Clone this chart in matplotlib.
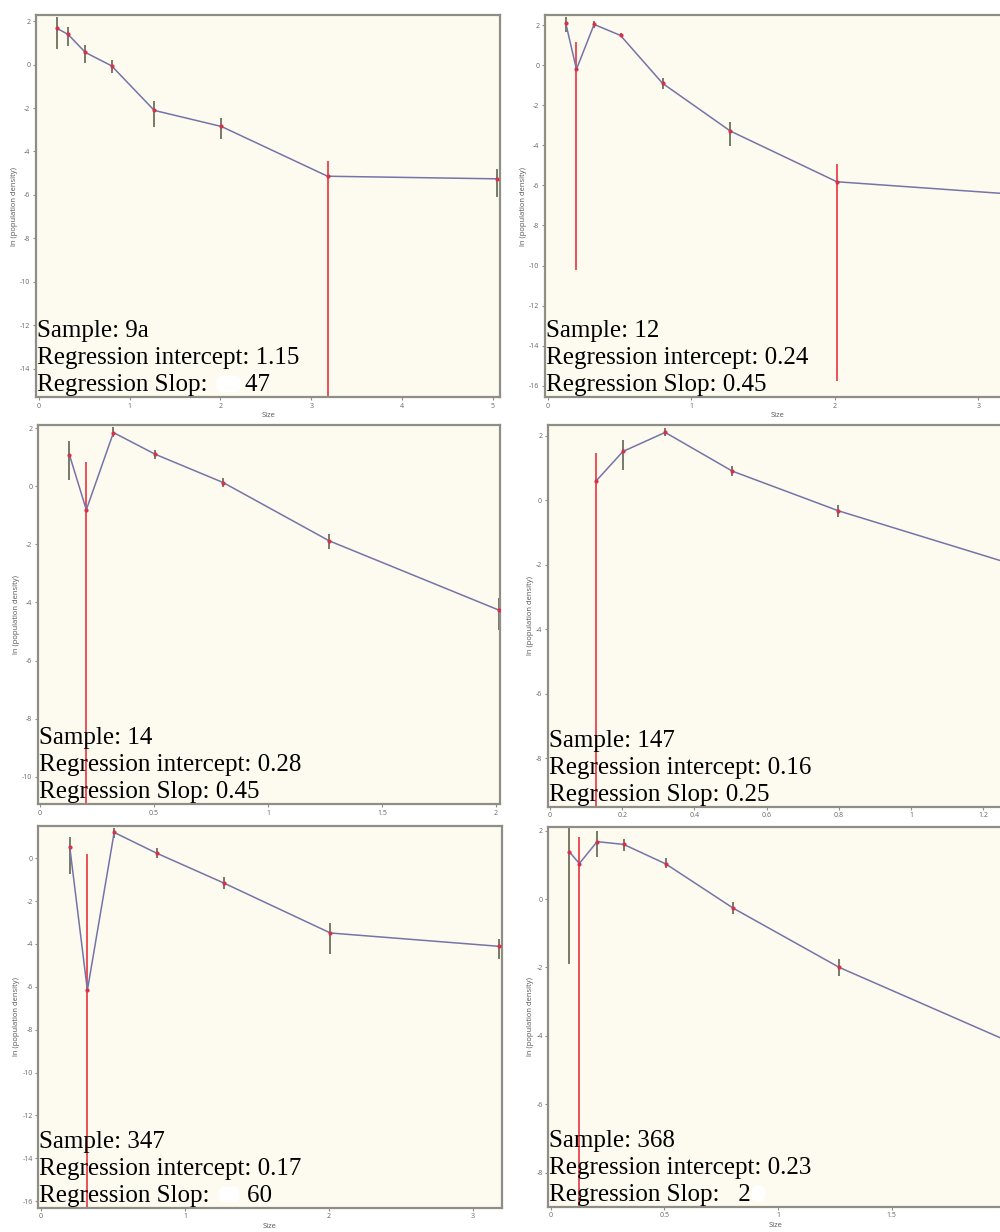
import matplotlib
matplotlib.use("Agg")
import matplotlib.pyplot as plt
from matplotlib.patches import Rectangle, FancyBboxPatch
from matplotlib.ticker import MultipleLocator, FuncFormatter
from matplotlib.textpath import TextPath
from matplotlib.font_manager import FontProperties

plt.rcParams['axes.unicode_minus'] = False

# ln(population density) by size class, with confidence bars
s9a_x = [0.2, 0.32, 0.51, 0.8, 1.27, 2.01, 3.18, 5.05]
s9a_y = [1.66, 1.39, 0.56, -0.06, -2.11, -2.85, -5.14, -5.26]
s9a_lo = [0.72, 0.85, 0.09, -0.37, -2.86, -3.43, -16.0, -6.09]
s9a_hi = [2.17, 1.74, 0.9, 0.21, -1.67, -2.46, -4.42, -4.83]

s12_x = [0.126, 0.2, 0.323, 0.507, 0.8, 1.272, 2.014, 3.18]
s12_y = [2.08, -0.21, 2.03, 1.48, -0.91, -3.29, -5.82, -6.41]
s12_lo = [1.67, -10.23, 1.87, 1.38, -1.19, -4.04, -15.75, -6.8]
s12_hi = [2.42, 1.13, 2.2, 1.58, -0.66, -2.84, -4.94, -6.0]

s14_x = [0.129, 0.203, 0.322, 0.506, 0.803, 1.269, 2.012]
s14_y = [1.08, -0.81, 1.85, 1.1, 0.13, -1.88, -4.26]
s14_lo = [0.2, -12.0, 1.69, 0.93, -0.03, -2.17, -4.95]
s14_hi = [1.56, 0.85, 2.03, 1.25, 0.28, -1.65, -3.83]

s147_x = [0.128, 0.202, 0.319, 0.505, 0.799, 1.27]
s147_y = [0.6, 1.51, 2.1, 0.9, -0.33, -1.95]
s147_lo = [-10.0, 0.93, 1.98, 0.74, -0.52, -2.2]
s147_hi = [1.45, 1.86, 2.25, 1.05, -0.15, -1.7]

s347_x = [0.2, 0.322, 0.508, 0.804, 1.27, 2.01, 3.18]
s347_y = [0.5, -6.16, 1.2, 0.23, -1.16, -3.49, -4.11]
s347_lo = [-0.75, -17.0, 0.96, 0.03, -1.43, -4.47, -4.69]
s347_hi = [1.0, 0.19, 1.43, 0.47, -0.89, -3.03, -3.76]

s368_x = [0.081, 0.126, 0.204, 0.321, 0.506, 0.804, 1.27, 2.02]
s368_y = [1.39, 1.04, 1.68, 1.6, 1.03, -0.27, -2.0, -4.18]
s368_lo = [-1.9, -10.0, 1.24, 1.4, 0.9, -0.45, -2.24, -4.45]
s368_hi = [2.3, 1.82, 1.99, 1.76, 1.19, -0.08, -1.76, -3.9]

sample_names = ['9a', '12', '14', '147', '347', '368']
intercepts = ['1.15', '0.24', '0.28', '0.16', '0.17', '0.23']
slopes = ['     47', '0.45', '0.45', '0.25', '     60', '  2']

series = [
    (s9a_x, s9a_y, s9a_lo, s9a_hi),
    (s12_x, s12_y, s12_lo, s12_hi),
    (s14_x, s14_y, s14_lo, s14_hi),
    (s147_x, s147_y, s147_lo, s147_hi),
    (s347_x, s347_y, s347_lo, s347_hi),
    (s368_x, s368_y, s368_lo, s368_hi),
]

# panel boxes in pixels (left, top, right, bottom), axis limits and tick steps
W, H = 1000, 1232
boxes = [(36, 15, 500, 397), (545, 15, 1010, 397),
         (38, 425, 500, 804), (547.7, 425, 1010, 806.7),
         (38.3, 826, 501.7, 1207.7), (548.3, 827.3, 1003, 1206.7)]
xlims = [(-0.033, 5.08), (-0.019, 3.22), (-0.009, 2.018),
         (-0.0064, 1.274), (-0.019, 3.2), (-0.0106, 1.99)]
ylims = [(-15.3, 2.28), (-16.56, 2.5), (-10.94, 2.11),
         (-9.5, 2.33), (-16.3, 1.5), (-9.0, 2.1)]
xsteps = [1, 1, 0.5, 0.2, 1, 0.5]
# white erasures on the slope line: (gap after colon, width) in pixels
erased = {0: (11, 25), 4: (11, 21), 5: (34, 14)}

BG = '#fdfbef'
SPINE = '#8e8e86'
LINE = '#7474a8'
DOT = '#d8304a'
BAR_OK = '#6b705c'
BAR_WIDE = '#e8434a'
FS = 18

fig = plt.figure(figsize=(W / 100, H / 100), dpi=100)

# white backing for the lower rows so they sit over the row above
for z, top in [(1.5, 420), (2.5, 819)]:
    fig.add_artist(Rectangle((0, 0), 1, 1 - top / H, transform=fig.transFigure,
                             facecolor='white', edgecolor='none', zorder=z))

fmt = FuncFormatter(lambda v, p: f'{v:g}')
serif = FontProperties(family='Liberation Serif', size=FS)
colon_w = TextPath((0, 0), 'Regression Slop:', prop=serif).get_extents().x1 * 100 / 72

for i, (xs, ys, lo, hi) in enumerate(series):
    l, t, r, b = boxes[i]
    ax = fig.add_axes([l / W, 1 - b / H, (r - l) / W, (b - t) / H])
    ax.set_zorder(1 + i // 2)
    ax.set_facecolor(BG)
    for sp in ax.spines.values():
        sp.set_color(SPINE)
        sp.set_linewidth(1.6)

    # wide (open-ended) intervals are drawn in red
    cols = [BAR_WIDE if (y - a) > 5 else BAR_OK for y, a in zip(ys, lo)]
    ax.vlines(xs, lo, hi, colors=cols, lw=1.3, zorder=2)
    ax.plot(xs, ys, color=LINE, lw=1.1, zorder=3)
    ax.plot(xs, ys, 'o', ms=3, color=DOT, mec='none', zorder=4)

    ax.set_xlim(*xlims[i])
    ax.set_ylim(*ylims[i])
    ax.xaxis.set_major_locator(MultipleLocator(xsteps[i]))
    ax.yaxis.set_major_locator(MultipleLocator(2))
    ax.xaxis.set_major_formatter(fmt)
    ax.yaxis.set_major_formatter(fmt)
    ax.tick_params(length=2.5, width=0.8, color=SPINE, labelsize=5,
                   labelcolor='#666666', pad=1.5)
    ax.set_xlabel('Size', fontsize=5.5, color='#555555', labelpad=2,
                  family='Open Sans')
    ax.set_ylabel('ln (population density)', fontsize=5.5, color='#555555',
                  labelpad=1.5, family='Open Sans')
    for lab in ax.get_xticklabels() + ax.get_yticklabels():
        lab.set_family('Open Sans')

    ax.text(0.002, 0.002,
            f'Sample: {sample_names[i]}\n'
            f'Regression intercept: {intercepts[i]}\n'
            f'Regression Slop: {slopes[i]}',
            transform=ax.transAxes, ha='left', va='bottom', fontsize=FS,
            family='Liberation Serif', linespacing=1.3, color='black', zorder=5)

    if i in erased:
        gap, w = erased[i]
        x0 = l + 1 + colon_w + gap
        ax.add_patch(FancyBboxPatch(((x0) / W, 1 - (b - 5) / H), w / W, 16 / H,
                                    boxstyle='round,pad=0,rounding_size=0.006',
                                    transform=fig.transFigure, fc='white',
                                    ec='none', zorder=6, clip_on=False))

fig.savefig('out.png', dpi=100)
